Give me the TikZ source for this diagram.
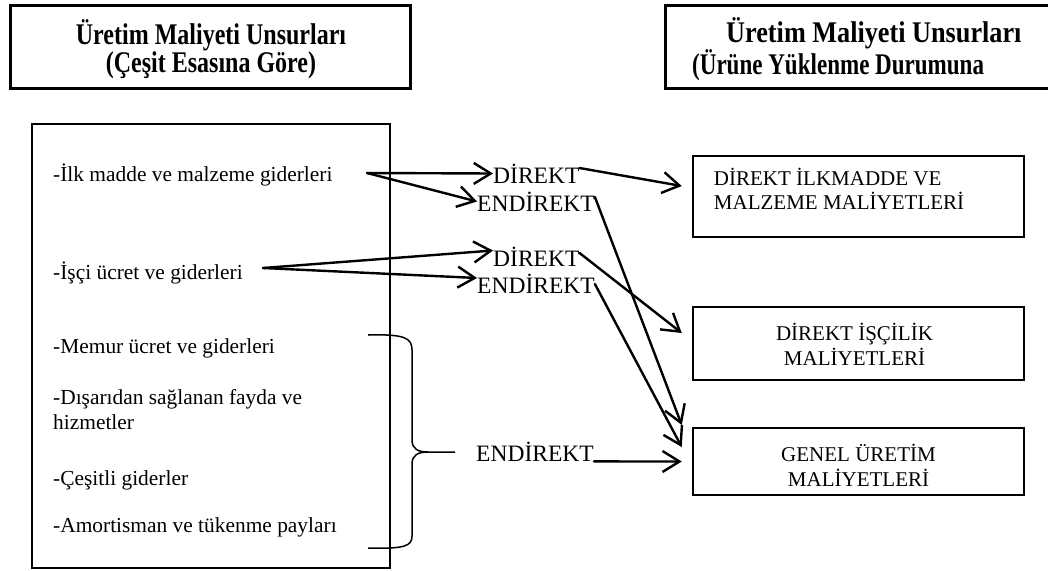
\documentclass[tikz,border=0pt]{standalone}
\usepackage{fontspec}
\setmainfont{Liberation Serif}
\usetikzlibrary{arrows.meta}

% tall, narrow bold heading lines
\newcommand{\tallline}[2][1]{\scalebox{#1}[1.25]{#2}}

\begin{document}
\begin{tikzpicture}[x=1pt,y=-1pt,
  framebox/.style={draw,line width=3pt,inner sep=0pt,minimum height=83pt},
  titletext/.style={inner sep=0pt,font=\bfseries\fontsize{24}{28}\selectfont},
  listbox/.style={draw,line width=2.5pt,inner sep=0pt},
  item/.style={anchor=west,inner sep=0pt,align=left,font=\fontsize{21.4}{25}\selectfont},
  kind/.style={anchor=west,inner sep=0pt,font=\fontsize{23.5}{26}\selectfont},
  costbox/.style={draw,line width=2.5pt,inner sep=0pt,minimum width=331pt},
  costtext/.style={inner sep=0pt,align=center,font=\fontsize{21}{24.5}\selectfont},
  arr/.style={line width=2.4pt,line cap=round,line join=round,
    -{Straight Barb[length=17pt,width=21pt,line width=2.4pt]}},
  brace/.style={line width=1.5pt}]
\useasboundingbox (0,0) rectangle (1048,570);

% column titles
\node[framebox,minimum width=400pt] (ltbox) at (210,46.5) {};
\node[titletext,align=center] (lt) at (211,49)
  {\tallline{Üretim Maliyeti Unsurları}\\\tallline{(Çeşit Esasına Göre)}};
\node[framebox,anchor=west,minimum width=420pt] (rtbox) at (664,46.5) {};
\node[titletext,anchor=west,align=left] (rt) at (692,49)
  {\hspace*{34pt}\tallline[1.093]{Üretim Maliyeti Unsurları}\\\tallline[0.96]{(Ürüne Yüklenme Durumuna}};

% list of cost items
\node[listbox,minimum width=358pt,minimum height=444pt] (src) at (211,346) {};
\node[item] (i1) at (53,175) {-İlk madde ve malzeme giderleri};
\node[item] (i2) at (53,273) {-İşçi ücret ve giderleri};
\node[item] (i3) at (53,348) {-Memur ücret ve giderleri};
\node[item] (i4) at (53,409.5) {-Dışarıdan sağlanan fayda ve\\hizmetler};
\node[item] (i5) at (53,480) {-Çeşitli giderler};
\node[item] (i6) at (53,527) {-Amortisman ve tükenme payları};

% direct / indirect labels
\node[kind] (d1) at (493,173.5) {DİREKT};
\node[kind] (e1) at (477,201.5) {ENDİREKT};
\node[kind] (d2) at (493,256.5) {DİREKT};
\node[kind] (e2) at (477,284) {ENDİREKT};
\node[kind] (e3) at (476,451.5) {ENDİREKT};

% cost categories
\node[costbox,minimum height=81pt] (b1) at (858.5,196.5) {};
\node[costtext,anchor=west,align=left] at ([xshift=22pt,yshift=7.5pt]b1.west)
  {DİREKT İLKMADDE VE\\MALZEME MALİYETLERİ};
\node[costbox,minimum height=73pt] (b2) at (858.5,343.5) {};
\node[costtext] at ([xshift=-4pt,yshift=-1pt]b2.center) {DİREKT İŞÇİLİK\\MALİYETLERİ};
\node[costbox,minimum height=67pt] (b3) at (858.5,461.5) {};
\node[costtext] at ([yshift=-4pt]b3.center) {GENEL ÜRETİM\\MALİYETLERİ};

% branching points
\coordinate (s1) at (367,173);
\coordinate (s2) at (263,268);

\draw[arr] (s1) -- (d1.west);
\draw[arr] (s1) -- (e1.west);
\draw[arr] (s2) -- ([yshift=6pt]d2.west);
\draw[arr] (s2) -- ([yshift=6pt]e2.west);

\draw[arr] ([yshift=5.5pt]d1.east) -- ([xshift=-10pt,yshift=10.5pt]b1.west);
\draw[arr] ([yshift=4.5pt]e1.east) -- ([xshift=-10pt,yshift=36.5pt]b3.west);
\draw[arr] ([yshift=3.5pt]d2.east) -- ([xshift=-10pt,yshift=10.5pt]b2.west);
\draw[arr] (e2.east) -- ([xshift=-10pt,yshift=14.5pt]b3.west);
\draw[arr] (e3.south east) -- ([xshift=-10pt]b3.west);

% brace grouping the indirect items
\draw[brace] (368,335) .. controls (405,334) and (412,338) .. (412,350) -- (412,440)
  .. controls (412,449) and (418,452) .. (428,452) -- (455,452);
\draw[brace] (428,452) .. controls (418,452) and (412,455) .. (412,464) -- (412,536)
  .. controls (412,546) and (405,549) .. (368,548);
\end{tikzpicture}
\end{document}
